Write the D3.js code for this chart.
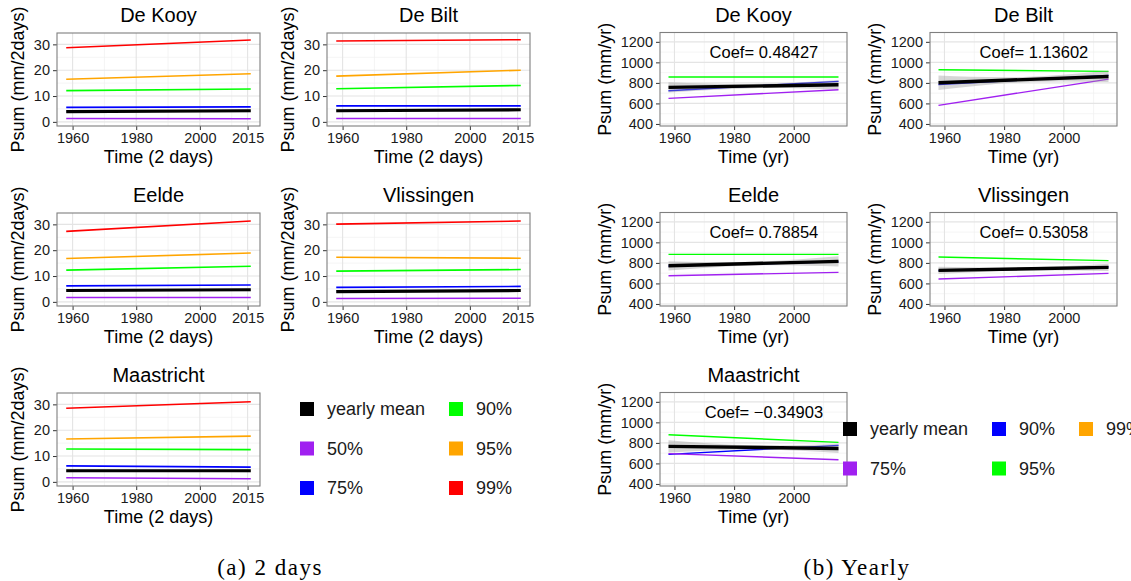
<!DOCTYPE html>
<html>
<head>
<meta charset="utf-8">
<script src="https://cdn.jsdelivr.net/npm/d3@7"></script>
<style>
  body { margin: 0; background: #fff; overflow: hidden; }
  svg { font-family: "Liberation Sans", Arial, sans-serif; }
</style>
</head>
<body>
<svg id="chart" width="1131" height="581"></svg>
<script>
// Stations, same order in both halves
const stations = ["De Kooy", "De Bilt", "Eelde", "Vlissingen", "Maastricht"];

// (a) 2-day sums: trend lines, values at first and last year
const years2d = [1958, 2016];
const mean2d = [[4.0, 4.3], [4.3, 4.7], [4.4, 4.7], [4.0, 4.4], [4.3, 4.3]];
const band2d = [[0.6, 0.3, 0.6], [0.6, 0.3, 0.6], [0.6, 0.3, 0.6], [0.6, 0.3, 0.6], [0.6, 0.3, 0.6]];
const p50_2d = [[1.3, 1.2], [1.3, 1.3], [1.7, 1.7], [1.3, 1.4], [1.6, 1.2]];
const p75_2d = [[5.6, 5.8], [6.2, 6.2], [6.2, 6.5], [5.6, 6.0], [6.2, 5.7]];
const p90_2d = [[12.1, 12.7], [12.8, 14.1], [12.3, 13.8], [11.9, 12.5], [12.7, 12.5]];
const p95_2d = [[16.5, 18.6], [17.7, 20.0], [16.8, 18.9], [17.3, 16.9], [16.6, 17.7]];
const p99_2d = [[28.7, 31.7], [31.3, 31.8], [27.3, 31.3], [30.1, 31.3], [28.5, 31.0]];
const xTicks2d = [1960, 1980, 2000, 2015];
const yTicks2d = [0, 10, 20, 30];

// (b) yearly sums
const yearsYr = [1958, 2015];
const bandYearsYr = [1958, 1986.5, 2015];
const meanYr = [[756, 782], [801, 863], [772, 815], [727, 756], [766, 746]];
const bandYr = [[50, 20, 45], [70, 25, 55], [45, 18, 50], [35, 14, 35], [60, 20, 45]];
const p75Yr = [[649, 733], [581, 837], [675, 708], [643, 698], [695, 636]];
const p90Yr = [[724, 815], [785, 873], [770, 810], [725, 760], [688, 776]];
const p95Yr = [[857, 857], [928, 912], [883, 883], [857, 822], [879, 805]];
const coefYr = ["0.48427", "1.13602", "0.78854", "0.53058", "\u22120.34903"];
const xTicksYr = [1960, 1980, 2000];
const yTicksYr = [400, 600, 800, 1000, 1200];

const legend2d = [
  ["yearly mean", "#000000"], ["50%", "#A020F0"], ["75%", "#0000FF"],
  ["90%", "#00FF00"], ["95%", "#FFA500"], ["99%", "#FF0000"]
];
const legendYr = [
  ["yearly mean", "#000000"], ["75%", "#A020F0"], ["90%", "#0000FF"],
  ["95%", "#00FF00"], ["99%", "#FFA500"]
];

const svg = d3.select("#chart");
let clipId = 0;

function drawPanel(opts) {
  const { x0, y0, w, h, xDomain, yDomain, xTicks, yTicks, title, xLabel, yLabel, yTitleOff } = opts;
  const g = svg.append("g").attr("transform", `translate(${x0},${y0})`);
  const x = d3.scaleLinear().domain(xDomain).range([0, w]);
  const y = d3.scaleLinear().domain(yDomain).range([h, 0]);

  g.append("rect").attr("width", w).attr("height", h).attr("fill", "#fff");

  // minor grid at midpoints
  const xMinor = d3.range(xTicks[0] - 10, xDomain[1], 10).filter(v => v > xDomain[0] && !xTicks.includes(v));
  const yStep = yTicks[1] - yTicks[0];
  const yMinor = d3.range(yTicks[0] - yStep / 2, yDomain[1], yStep).filter(v => v > yDomain[0]);
  g.selectAll(".xmin").data(xMinor).join("line")
    .attr("x1", d => x(d)).attr("x2", d => x(d)).attr("y1", 0).attr("y2", h)
    .attr("stroke", "#f0f0f0").attr("stroke-width", 0.7);
  g.selectAll(".ymin").data(yMinor).join("line")
    .attr("y1", d => y(d)).attr("y2", d => y(d)).attr("x1", 0).attr("x2", w)
    .attr("stroke", "#f0f0f0").attr("stroke-width", 0.7);
  g.selectAll(".xmaj").data(xTicks).join("line")
    .attr("x1", d => x(d)).attr("x2", d => x(d)).attr("y1", 0).attr("y2", h)
    .attr("stroke", "#e4e4e4").attr("stroke-width", 1.1);
  g.selectAll(".ymaj").data(yTicks).join("line")
    .attr("y1", d => y(d)).attr("y2", d => y(d)).attr("x1", 0).attr("x2", w)
    .attr("stroke", "#e4e4e4").attr("stroke-width", 1.1);

  const id = "clip" + (clipId++);
  g.append("clipPath").attr("id", id).append("rect").attr("width", w).attr("height", h);
  const plot = g.append("g").attr("clip-path", `url(#${id})`);

  // axes
  const xAxis = g.append("g").attr("transform", `translate(0,${h})`)
    .call(d3.axisBottom(x).tickValues(xTicks).tickFormat(d3.format("d")).tickSize(4).tickPadding(3));
  const yAxis = g.append("g")
    .call(d3.axisLeft(y).tickValues(yTicks).tickFormat(d3.format("d")).tickSize(4).tickPadding(3));
  [xAxis, yAxis].forEach(a => {
    a.select(".domain").remove();
    a.selectAll("line").attr("stroke", "#333");
    a.selectAll("text").attr("fill", "#1a1a1a").attr("font-size", 14.5).attr("font-family", "Liberation Sans, Arial, sans-serif");
  });

  g.append("rect").attr("width", w).attr("height", h)
    .attr("fill", "none").attr("stroke", "#7f7f7f").attr("stroke-width", 1.1);

  g.append("text").attr("x", w / 2).attr("y", -11).attr("text-anchor", "middle")
    .attr("font-size", 20).attr("fill", "#000").text(title);
  g.append("text").attr("x", w / 2).attr("y", h + 37).attr("text-anchor", "middle")
    .attr("font-size", 18).attr("fill", "#000").text(xLabel);
  g.append("text").attr("transform", `translate(${-yTitleOff},${h / 2}) rotate(-90)`)
    .attr("text-anchor", "middle").attr("dy", "0.35em")
    .attr("font-size", 18).attr("fill", "#000").text(yLabel);

  return { plot, x, y, g };
}

function drawBand(p, xs, mid, half) {
  // mid: [start,end] trend values; half: band half-widths at xs
  const line = d3.scaleLinear().domain([xs[0], xs[xs.length - 1]]).range(mid);
  const pts = xs.map((t, i) => ({ t, lo: line(t) - half[i], hi: line(t) + half[i] }));
  p.plot.append("path").datum(pts)
    .attr("d", d3.area().curve(d3.curveNatural).x(d => p.x(d.t)).y0(d => p.y(d.lo)).y1(d => p.y(d.hi)))
    .attr("fill", "#999").attr("fill-opacity", 0.4);
}

function drawTrend(p, xs, vals, color, width) {
  p.plot.append("path").datum(xs.map((t, i) => [t, vals[i]]))
    .attr("d", d3.line().x(d => p.x(d[0])).y(d => p.y(d[1])))
    .attr("fill", "none").attr("stroke", color).attr("stroke-width", width);
}

// (a) 2 days
stations.forEach((name, i) => {
  const col = i % 2, row = Math.floor(i / 2);
  const p = drawPanel({
    x0: 57 + col * 270, y0: 33 + row * 180, w: 203, h: 93,
    xDomain: [1955.1, 2018.9], yDomain: [-1.6, 34.4],
    xTicks: xTicks2d, yTicks: yTicks2d, title: name,
    xLabel: "Time (2 days)", yLabel: "Psum (mm/2days)", yTitleOff: 39
  });
  const bandXs = [years2d[0], (years2d[0] + years2d[1]) / 2, years2d[1]];
  drawBand(p, bandXs, mean2d[i], band2d[i]);
  drawTrend(p, years2d, p50_2d[i], "#A020F0", 1.6);
  drawTrend(p, years2d, p75_2d[i], "#0000FF", 1.6);
  drawTrend(p, years2d, p90_2d[i], "#00FF00", 1.6);
  drawTrend(p, years2d, p95_2d[i], "#FFA500", 1.6);
  drawTrend(p, years2d, p99_2d[i], "#FF0000", 1.6);
  drawTrend(p, years2d, mean2d[i], "#000000", 3.2);
});

// (b) yearly
stations.forEach((name, i) => {
  const col = i % 2, row = Math.floor(i / 2);
  const p = drawPanel({
    x0: 660 + col * 270, y0: 32.5 + row * 180, w: 187, h: 93.5,
    xDomain: [1955.15, 2017.85], yDomain: [380, 1291],
    xTicks: xTicksYr, yTicks: yTicksYr, title: name,
    xLabel: "Time (yr)", yLabel: "Psum (mm/yr)", yTitleOff: 55
  });
  drawTrend(p, yearsYr, p95Yr[i], "#00FF00", 1.4);
  drawTrend(p, yearsYr, p90Yr[i], "#0000FF", 1.4);
  drawTrend(p, yearsYr, p75Yr[i], "#A020F0", 1.4);
  drawBand(p, bandYearsYr, meanYr[i], bandYr[i]);
  drawTrend(p, yearsYr, meanYr[i], "#000000", 3.4);
  p.g.append("text").attr("x", p.x(1990)).attr("y", p.y(1100)).attr("dy", "0.35em")
    .attr("text-anchor", "middle").attr("font-size", 16.5).attr("fill", "#000")
    .text("Coef= " + coefYr[i]);
});

// legends: column x positions follow ggplot's label-width based layout
function drawLegend(items, colXs, y0, rowY, perCol) {
  const g = svg.append("g");
  items.forEach(([label, color], k) => {
    const c = Math.floor(k / perCol), r = k % perCol;
    const gx = colXs[c], gy = y0 + r * rowY;
    g.append("rect").attr("x", gx).attr("y", gy - 7).attr("width", 14).attr("height", 14).attr("fill", color);
    g.append("text").attr("x", gx + 27).attr("y", gy).attr("dy", "0.35em")
      .attr("font-size", 18).attr("fill", "#1a1a1a").text(label);
  });
}
drawLegend(legend2d, [300, 449], 409, 39.5, 3);
drawLegend(legendYr, [843, 992, 1079], 429, 39.5, 2);

// captions
svg.append("text").attr("x", 270).attr("y", 575).attr("text-anchor", "middle")
  .attr("font-family", "Liberation Serif, serif").attr("font-size", 23).attr("letter-spacing", 1.5)
  .attr("fill", "#000").text("(a) 2 days");
svg.append("text").attr("x", 857).attr("y", 575).attr("text-anchor", "middle")
  .attr("font-family", "Liberation Serif, serif").attr("font-size", 23).attr("letter-spacing", 1.5)
  .attr("fill", "#000").text("(b) Yearly");
</script>
</body>
</html>
